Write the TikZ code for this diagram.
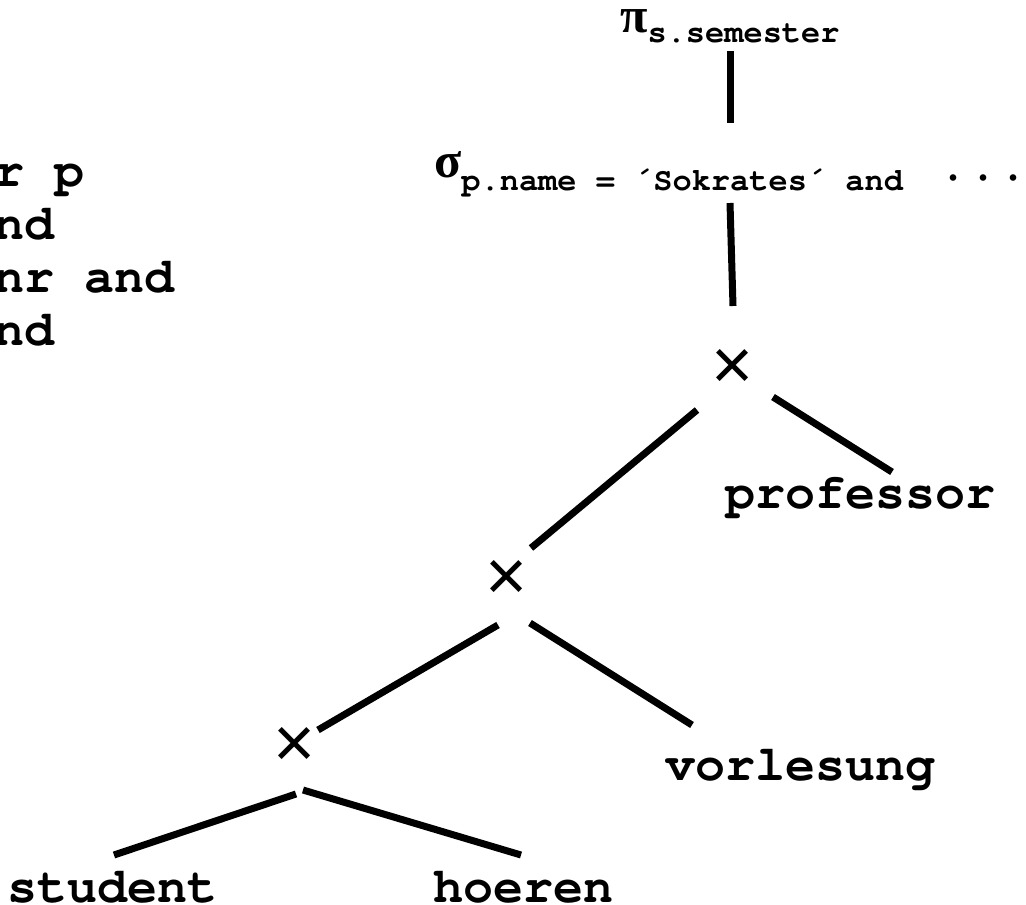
\documentclass[tikz,border=0pt]{standalone}
\usepackage{fontspec}
\usetikzlibrary{calc}
\newfontfamily\codefont{TeX Gyre Cursor}
\newfontfamily\greekfont{Liberation Serif}
\newfontfamily\signfont{Liberation Sans}
\newcommand{\subtext}[2]{\raisebox{#1}{\codefont\bfseries\fontsize{32}{36}\selectfont #2}}
\begin{document}
\begin{tikzpicture}[x=1pt,y=-1pt,
  edge/.style={line width=7pt, line cap=butt},
  code/.style={inner sep=0pt, font=\codefont\bfseries\fontsize{50}{60}\selectfont},
  rel/.style={code, anchor=base},
  greek/.style={inner sep=0pt, anchor=base west, font=\greekfont\bfseries\fontsize{50}{56}\selectfont},
  prod/.style={inner sep=0pt, font=\signfont\fontsize{72}{72}\selectfont}]
\useasboundingbox (0,0) rectangle (1026,905);
\clip (0,0) rectangle (1026,905);

% tail of the SQL query on the left
\node[code, anchor=base west] (q1) at (-6,186) {r p};
\node[code, anchor=base west] (q2) at (-6,239) {nd};
\node[code, anchor=base west] (q3) at (-6,292) {nr and};
\node[code, anchor=base west] (q4) at (-6,345) {nd};

% operator tree
\node[greek] (proj) at (620,32) {π\subtext{-10pt}{s.semester}};
\node[greek] (sel) at (434,177) {σ\subtext{-13pt}{p.name = ´Sokrates´ and}};
\node[code, anchor=base west] (more) at (938,190) {···};
\node[prod] (x1) at (733,369) {×};
\node[prod] (x2) at (507,580) {×};
\node[prod] (x3) at (295,747) {×};
\node[rel] (prof) at (860,508) {professor};
\node[rel] (vorl) at (800,780) {vorlesung};
\node[rel] (stud) at (113,902) {student};
\node[rel] (hoer) at (523,902) {hoeren};

\draw[edge] ($(proj.base west)+(110,19)$) -- ($(sel.base west)+(296,-54)$);
\draw[edge] ($(sel.base west)+(296,26)$) -- ($(x1)+(0,-63)$);
\draw[edge] ($(x1)+(40,28)$) -- ($(prof.base)+(32,-36)$);
\draw[edge] ($(x1)+(-36,41)$) -- ($(x2)+(24,-32)$);
\draw[edge] ($(x2)+(-9,45)$) -- ($(x3)+(23,-17)$);
\draw[edge] ($(x2)+(23,43)$) -- ($(vorl.base)+(-108,-55)$);
\draw[edge] ($(x3)+(1,47)$) -- ($(stud.base)+(1,-47)$);
\draw[edge] ($(x3)+(8,43)$) -- ($(hoer.base)+(-2,-47)$);
\end{tikzpicture}
\end{document}
